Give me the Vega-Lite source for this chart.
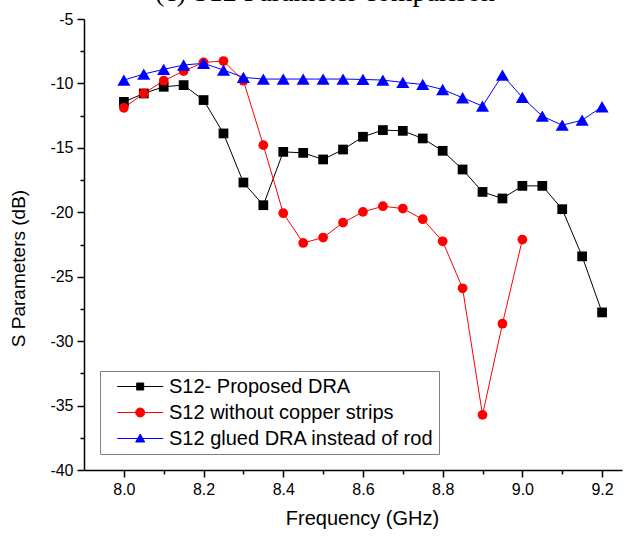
{
  "$schema": "https://vega.github.io/schema/vega-lite/v6.json",
  "width": 538,
  "height": 451,
  "autosize": "none",
  "padding": {"left": 84, "top": 19, "right": 7, "bottom": 70},
  "background": "white",
  "title": {
    "text": "(c) S12 Parameter comparison",
    "font": "Liberation Serif",
    "fontSize": 28,
    "fontWeight": "normal",
    "color": "black",
    "anchor": "middle",
    "dx": -28,
    "offset": 4
  },
  "config": {
    "view": {"stroke": null},
    "axis": {
      "labelFont": "Liberation Sans",
      "titleFont": "Liberation Sans",
      "labelColor": "black",
      "titleColor": "black",
      "domainColor": "black",
      "tickColor": "black",
      "domainWidth": 1.5,
      "tickWidth": 1.5,
      "grid": false,
      "labelFontSize": 16,
      "titleFontWeight": "normal",
      "titleFontSize": 20
    },
    "legend": {
      "labelFont": "Liberation Sans",
      "labelFontSize": 20,
      "labelColor": "black",
      "labelLimit": 500,
      "strokeColor": "#808080",
      "fillColor": "white",
      "padding": 5,
      "labelOffset": 43,
      "symbolSize": 400,
      "symbolStrokeWidth": 1,
      "rowPadding": 5
    }
  },
  "data": {
    "values": [
      {"s": "S12- Proposed DRA", "f": 8.0, "v": -11.43},
      {"s": "S12- Proposed DRA", "f": 8.05, "v": -10.78},
      {"s": "S12- Proposed DRA", "f": 8.1, "v": -10.26},
      {"s": "S12- Proposed DRA", "f": 8.15, "v": -10.13},
      {"s": "S12- Proposed DRA", "f": 8.2, "v": -11.29},
      {"s": "S12- Proposed DRA", "f": 8.25, "v": -13.88},
      {"s": "S12- Proposed DRA", "f": 8.3, "v": -17.69},
      {"s": "S12- Proposed DRA", "f": 8.35, "v": -19.45},
      {"s": "S12- Proposed DRA", "f": 8.4, "v": -15.31},
      {"s": "S12- Proposed DRA", "f": 8.45, "v": -15.39},
      {"s": "S12- Proposed DRA", "f": 8.5, "v": -15.9},
      {"s": "S12- Proposed DRA", "f": 8.55, "v": -15.13},
      {"s": "S12- Proposed DRA", "f": 8.6, "v": -14.14},
      {"s": "S12- Proposed DRA", "f": 8.65, "v": -13.62},
      {"s": "S12- Proposed DRA", "f": 8.7, "v": -13.68},
      {"s": "S12- Proposed DRA", "f": 8.75, "v": -14.27},
      {"s": "S12- Proposed DRA", "f": 8.8, "v": -15.23},
      {"s": "S12- Proposed DRA", "f": 8.85, "v": -16.68},
      {"s": "S12- Proposed DRA", "f": 8.9, "v": -18.42},
      {"s": "S12- Proposed DRA", "f": 8.95, "v": -18.93},
      {"s": "S12- Proposed DRA", "f": 9.0, "v": -17.95},
      {"s": "S12- Proposed DRA", "f": 9.05, "v": -17.95},
      {"s": "S12- Proposed DRA", "f": 9.1, "v": -19.76},
      {"s": "S12- Proposed DRA", "f": 9.15, "v": -23.42},
      {"s": "S12- Proposed DRA", "f": 9.2, "v": -27.77},
      {"s": "S12 without copper strips", "f": 8.0, "v": -11.89},
      {"s": "S12 without copper strips", "f": 8.05, "v": -10.78},
      {"s": "S12 without copper strips", "f": 8.1, "v": -9.79},
      {"s": "S12 without copper strips", "f": 8.15, "v": -9.04},
      {"s": "S12 without copper strips", "f": 8.2, "v": -8.37},
      {"s": "S12 without copper strips", "f": 8.25, "v": -8.26},
      {"s": "S12 without copper strips", "f": 8.3, "v": -9.79},
      {"s": "S12 without copper strips", "f": 8.35, "v": -14.79},
      {"s": "S12 without copper strips", "f": 8.4, "v": -20.07},
      {"s": "S12 without copper strips", "f": 8.45, "v": -22.38},
      {"s": "S12 without copper strips", "f": 8.5, "v": -21.96},
      {"s": "S12 without copper strips", "f": 8.55, "v": -20.8},
      {"s": "S12 without copper strips", "f": 8.6, "v": -19.97},
      {"s": "S12 without copper strips", "f": 8.65, "v": -19.53},
      {"s": "S12 without copper strips", "f": 8.7, "v": -19.71},
      {"s": "S12 without copper strips", "f": 8.75, "v": -20.54},
      {"s": "S12 without copper strips", "f": 8.8, "v": -22.25},
      {"s": "S12 without copper strips", "f": 8.85, "v": -25.9},
      {"s": "S12 without copper strips", "f": 8.9, "v": -35.72},
      {"s": "S12 without copper strips", "f": 8.95, "v": -28.65},
      {"s": "S12 without copper strips", "f": 9.0, "v": -22.12},
      {"s": "S12 glued DRA instead of rod", "f": 8.0, "v": -9.74},
      {"s": "S12 glued DRA instead of rod", "f": 8.05, "v": -9.27},
      {"s": "S12 glued DRA instead of rod", "f": 8.1, "v": -8.91},
      {"s": "S12 glued DRA instead of rod", "f": 8.15, "v": -8.57},
      {"s": "S12 glued DRA instead of rod", "f": 8.2, "v": -8.44},
      {"s": "S12 glued DRA instead of rod", "f": 8.25, "v": -8.96},
      {"s": "S12 glued DRA instead of rod", "f": 8.3, "v": -9.53},
      {"s": "S12 glued DRA instead of rod", "f": 8.35, "v": -9.66},
      {"s": "S12 glued DRA instead of rod", "f": 8.4, "v": -9.66},
      {"s": "S12 glued DRA instead of rod", "f": 8.45, "v": -9.66},
      {"s": "S12 glued DRA instead of rod", "f": 8.5, "v": -9.66},
      {"s": "S12 glued DRA instead of rod", "f": 8.55, "v": -9.66},
      {"s": "S12 glued DRA instead of rod", "f": 8.6, "v": -9.69},
      {"s": "S12 glued DRA instead of rod", "f": 8.65, "v": -9.74},
      {"s": "S12 glued DRA instead of rod", "f": 8.7, "v": -9.92},
      {"s": "S12 glued DRA instead of rod", "f": 8.75, "v": -10.08},
      {"s": "S12 glued DRA instead of rod", "f": 8.8, "v": -10.47},
      {"s": "S12 glued DRA instead of rod", "f": 8.85, "v": -11.11},
      {"s": "S12 glued DRA instead of rod", "f": 8.9, "v": -11.76},
      {"s": "S12 glued DRA instead of rod", "f": 8.95, "v": -9.35},
      {"s": "S12 glued DRA instead of rod", "f": 9.0, "v": -11.09},
      {"s": "S12 glued DRA instead of rod", "f": 9.05, "v": -12.54},
      {"s": "S12 glued DRA instead of rod", "f": 9.1, "v": -13.24},
      {"s": "S12 glued DRA instead of rod", "f": 9.15, "v": -12.85},
      {"s": "S12 glued DRA instead of rod", "f": 9.2, "v": -11.81}
    ]
  },
  "encoding": {
    "x": {
      "field": "f",
      "type": "quantitative",
      "scale": {"domain": [7.9, 9.25], "nice": false, "zero": false},
      "axis": {
        "title": "Frequency (GHz)",
        "values": [8.0, 8.1, 8.2, 8.3, 8.4, 8.5, 8.6, 8.7, 8.8, 8.9, 9.0, 9.1, 9.2],
        "labelExpr": "round(datum.value*10) % 2 === 0 ? format(datum.value, '.1f') : ''",
        "tickSize": {"condition": {"test": "round(datum.value*10) % 2 === 0", "value": 7}, "value": 4},
        "labelPadding": 4,
        "titlePadding": 11,
        "titleX": 278
      }
    },
    "y": {
      "field": "v",
      "type": "quantitative",
      "scale": {"domain": [-40, -5], "nice": false, "zero": false},
      "axis": {
        "title": "S Parameters (dB)",
        "values": [-40, -37.5, -35, -32.5, -30, -27.5, -25, -22.5, -20, -17.5, -15, -12.5, -10, -7.5, -5],
        "labelExpr": "datum.value % 5 === 0 ? '' + datum.value : ''",
        "tickSize": {"condition": {"test": "datum.value % 5 === 0", "value": 7}, "value": 4},
        "labelPadding": 4,
        "titleX": -56,
        "titleY": 249,
        "titleFontSize": 19
      }
    }
  },
  "layer": [
    {
      "mark": {"type": "line", "strokeWidth": 1},
      "encoding": {
        "detail": {"field": "s", "type": "nominal"},
        "stroke": {
          "condition": [
            {"test": "datum.s === 'S12- Proposed DRA'", "value": "#000000"},
            {"test": "datum.s === 'S12 without copper strips'", "value": "#ff0000"}
          ],
          "value": "#0000ff"
        }
      }
    },
    {
      "mark": {"type": "point", "filled": true, "opacity": 1},
      "encoding": {
        "color": {
          "field": "s",
          "type": "nominal",
          "scale": {
            "domain": ["S12- Proposed DRA", "S12 without copper strips", "S12 glued DRA instead of rod"],
            "range": ["#000000", "#ff0000", "#0000ff"]
          },
          "legend": {"title": null, "orient": "bottom-left", "offset": 16}
        },
        "shape": {
          "condition": [
            {"test": "datum.s === 'S12- Proposed DRA'", "value": "square"},
            {"test": "datum.s === 'S12 without copper strips'", "value": "circle"}
          ],
          "value": "triangle-up"
        },
        "size": {
          "condition": {"test": "datum.s === 'S12 glued DRA instead of rod'", "value": 170},
          "value": 95
        }
      }
    },
    {
      "transform": [{"filter": "false"}],
      "mark": {"type": "point", "filled": true, "opacity": 1, "strokeWidth": 1},
      "encoding": {
        "color": {
          "field": "s",
          "type": "nominal",
          "legend": {"title": null, "orient": "bottom-left", "offset": 16}
        },
        "stroke": {
          "field": "s",
          "type": "nominal",
          "scale": {
            "domain": ["S12- Proposed DRA", "S12 without copper strips", "S12 glued DRA instead of rod"],
            "range": ["#000000", "#ff0000", "#0000ff"]
          },
          "legend": {"title": null, "orient": "bottom-left", "offset": 16}
        },
        "shape": {
          "field": "s",
          "type": "nominal",
          "scale": {
            "domain": ["S12- Proposed DRA", "S12 without copper strips", "S12 glued DRA instead of rod"],
            "range": [
              "M0.17,0L4.77,0M2.12,-0.35L2.82,-0.35L2.82,0.35L2.12,0.35Z",
              "M0.17,0L4.77,0M2.02,0A0.45,0.45,0,1,0,2.92,0A0.45,0.45,0,1,0,2.02,0Z",
              "M0.17,0L4.77,0M2.47,-0.45L2.92,0.35L2.02,0.35Z"
            ]
          },
          "legend": {"title": null, "orient": "bottom-left", "offset": 16}
        }
      }
    }
  ]
}
